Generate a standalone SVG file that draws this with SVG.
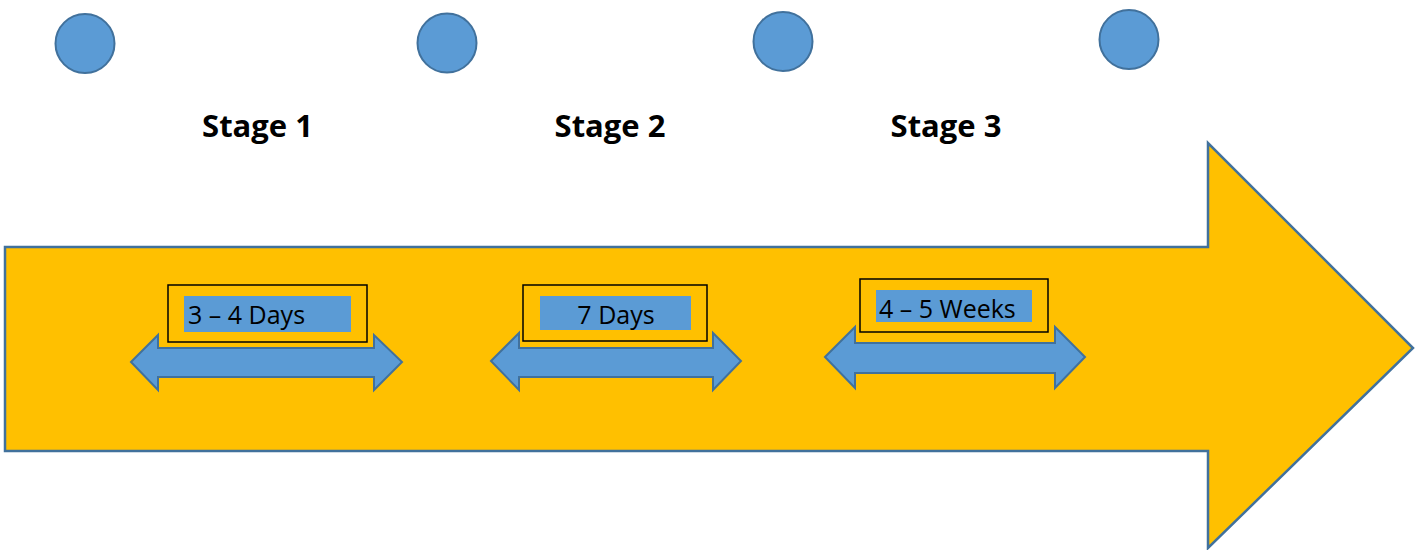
<svg xmlns="http://www.w3.org/2000/svg" width="1421" height="550" viewBox="0 0 1421 550">
<style>
.dot{fill:#5B9BD5;stroke:#41719C;stroke-width:2}
.big{fill:#FFC000;stroke:#41719C;stroke-width:2.5}
.dbl{fill:#5B9BD5;stroke:#41719C;stroke-width:2}
.box{fill:none;stroke:#000;stroke-width:1.5}
.hl{fill:#5B9BD5}
.stage{font-family:"Open Sans","Noto Sans",sans-serif;font-weight:bold;font-size:31px;fill:#000;text-anchor:middle}
.lbl{font-family:"Open Sans","Noto Sans",sans-serif;font-size:25px;fill:#000}
</style>
<rect width="1421" height="550" fill="#fff"/>
<g id="connectors">
<path id="main-arrow" class="big" d="M5,247 H1208 V143 L1413,348 L1208,548 V451 H5 Z"/>
</g>
<g id="dot1"><circle class="dot" cx="85" cy="43.5" r="29.5"/></g>
<g id="dot2"><circle class="dot" cx="447" cy="43" r="29.5"/></g>
<g id="dot3"><circle class="dot" cx="783" cy="41.5" r="29.5"/></g>
<g id="dot4"><circle class="dot" cx="1129" cy="39.5" r="29.5"/></g>
<g id="stage1"><text class="stage" x="257.5" y="137">Stage 1</text></g>
<g id="stage2"><text class="stage" x="610" y="137">Stage 2</text></g>
<g id="stage3"><text class="stage" x="946" y="137">Stage 3</text></g>
<g id="span1">
<path class="dbl" d="M131,362 L158,335 V348 H374 V335 L402,362 L374,390 V377 H158 V390 Z"/>
<rect class="box" x="168" y="285" width="199" height="57"/>
<rect class="hl" x="184" y="296" width="167" height="36"/>
<text class="lbl" x="188" y="324">3 – 4 Days</text>
</g>
<g id="span2">
<path class="dbl" d="M491,361 L519,333 V348 H713 V333 L741,361 L713,390 V377 H519 V390 Z"/>
<rect class="box" x="523" y="285" width="184" height="56"/>
<rect class="hl" x="540" y="296" width="151" height="34"/>
<text class="lbl" x="616" y="324" text-anchor="middle">7 Days</text>
</g>
<g id="span3">
<path class="dbl" d="M825,357 L855,327 V343 H1055 V327 L1085,357 L1055,388 V373 H855 V388 Z"/>
<rect class="box" x="860" y="279" width="188" height="53"/>
<rect class="hl" x="876" y="290" width="156" height="32"/>
<text class="lbl" x="879" y="318">4 – 5 Weeks</text>
</g>
</svg>
